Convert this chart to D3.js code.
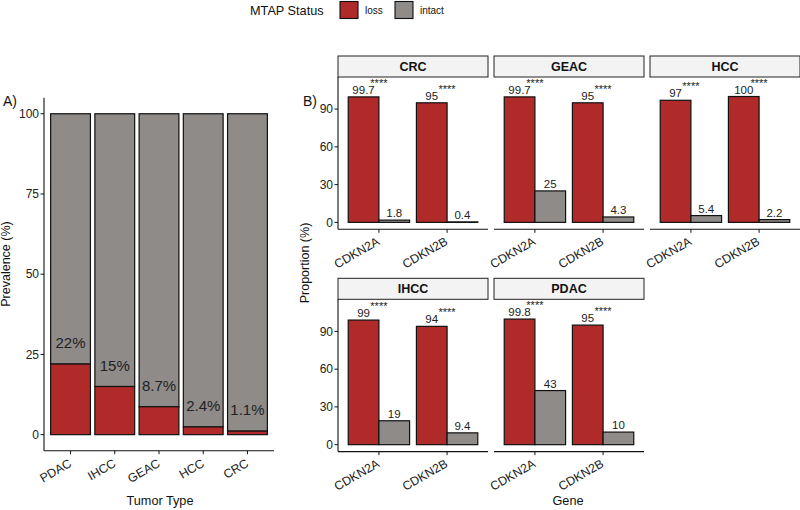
<!DOCTYPE html>
<html><head><meta charset="utf-8">
<script src="https://cdn.jsdelivr.net/npm/d3@7"></script>
<style>
html,body{margin:0;padding:0;background:#fff;}
svg{display:block;font-family:"Liberation Sans",Arial,Helvetica,sans-serif;}
</style></head>
<body><svg id="chart" width="800" height="510"></svg>
<script>
// ---- Data ----
const tumorTypes = ["PDAC", "IHCC", "GEAC", "HCC", "CRC"];
const lossPrevalence = [22, 15, 8.7, 2.4, 1.1];
const prevalenceLabels = ["22%", "15%", "8.7%", "2.4%", "1.1%"];
const prevalenceTicks = [0, 25, 50, 75, 100];

const facets = ["CRC", "GEAC", "HCC", "IHCC", "PDAC"];
const genes = ["CDKN2A", "CDKN2B"];
const lossCDKN2A = [99.7, 99.7, 97, 99, 99.8];
const intactCDKN2A = [1.8, 25, 5.4, 19, 43];
const lossCDKN2B = [95, 95, 100, 94, 95];
const intactCDKN2B = [0.4, 4.3, 2.2, 9.4, 10];
const sigCDKN2A = ["****", "****", "****", "****", "****"];
const sigCDKN2B = ["****", "****", "****", "****", "****"];
const proportionTicks = [0, 30, 60, 90];

const statusLevels = ["loss", "intact"];
const statusColors = ["#B02A29", "#8E8B88"];

const svg = d3.select("#chart");
const color = d3.scaleOrdinal().domain(statusLevels).range(statusColors);
const INK = "#111";

// ---- Legend ----
const lg = svg.append("g");
lg.append("text").attr("x", 250).attr("y", 15).attr("font-size", 12.7).attr("fill", INK).text("MTAP Status");
const legendX = [340, 395];
statusLevels.forEach((s, i) => {
  lg.append("rect").attr("x", legendX[i]).attr("y", 1.5).attr("width", 18).attr("height", 17)
    .attr("fill", color(s)).attr("stroke", INK).attr("stroke-width", 1.1);
  lg.append("text").attr("x", legendX[i] + 25).attr("y", 13.5).attr("font-size", 10).attr("fill", INK).text(s);
});

// ---- Panel A ----
const A = {left: 44, right: 274, top: 97.7, bottom: 450.7};
const xA = d3.scalePoint().domain(tumorTypes).range([A.left, A.right]).padding(0.6);
const yA = d3.scaleLinear().domain([-5, 105]).range([A.bottom, A.top]);
const bwA = xA.step() * 0.9;
const gA = svg.append("g");

svg.append("text").attr("x", 3).attr("y", 106).attr("font-size", 14).attr("fill", INK).text("A)");

tumorTypes.forEach((t, i) => {
  const cx = xA(t);
  gA.append("rect").attr("x", cx - bwA / 2).attr("y", yA(100)).attr("width", bwA)
    .attr("height", yA(lossPrevalence[i]) - yA(100))
    .attr("fill", color("intact")).attr("stroke", INK).attr("stroke-width", 1.2);
  gA.append("rect").attr("x", cx - bwA / 2).attr("y", yA(lossPrevalence[i])).attr("width", bwA)
    .attr("height", yA(0) - yA(lossPrevalence[i]))
    .attr("fill", color("loss")).attr("stroke", INK).attr("stroke-width", 1.2);
  gA.append("text").attr("x", cx).attr("y", yA(lossPrevalence[i]) - 15.7)
    .attr("text-anchor", "middle").attr("font-size", 15).attr("fill", "#222").text(prevalenceLabels[i]);
});

const axA = gA.append("g");
axA.append("line").attr("x1", A.left).attr("x2", A.left).attr("y1", A.top).attr("y2", A.bottom)
  .attr("stroke", INK).attr("stroke-width", 1.1);
axA.append("line").attr("x1", A.left).attr("x2", A.right).attr("y1", A.bottom).attr("y2", A.bottom)
  .attr("stroke", INK).attr("stroke-width", 1.1);
prevalenceTicks.forEach(v => {
  axA.append("line").attr("x1", A.left - 3.5).attr("x2", A.left).attr("y1", yA(v)).attr("y2", yA(v)).attr("stroke", INK);
  axA.append("text").attr("x", A.left - 5).attr("y", yA(v) + 4.2).attr("text-anchor", "end")
    .attr("font-size", 12).attr("fill", "#222").text(v);
});
tumorTypes.forEach(t => {
  axA.append("line").attr("x1", xA(t)).attr("x2", xA(t)).attr("y1", A.bottom).attr("y2", A.bottom + 3.5).attr("stroke", INK);
  axA.append("text").attr("transform", `translate(${xA(t) + 2},${A.bottom + 15}) rotate(-30)`)
    .attr("text-anchor", "end").attr("font-size", 12.3).attr("fill", "#222").text(t);
});
svg.append("text").attr("transform", `translate(10,264) rotate(-90)`).attr("text-anchor", "middle")
  .attr("font-size", 12.5).attr("fill", INK).text("Prevalence (%)");
svg.append("text").attr("x", 160).attr("y", 505).attr("text-anchor", "middle")
  .attr("font-size", 12.7).attr("fill", INK).text("Tumor Type");

// ---- Panel B ----
svg.append("text").attr("x", 303).attr("y", 106).attr("font-size", 14).attr("fill", INK).text("B)");
const pW = 150, pGap = 6, stripH = 21, pH = 152.3, rowGap = 222.3;
const bx0 = 338, by0 = 56;
const yB = d3.scaleLinear().domain([-5.5, 115.5]);
const lossByGene = [lossCDKN2A, lossCDKN2B];
const intactByGene = [intactCDKN2A, intactCDKN2B];
const sigByGene = [sigCDKN2A, sigCDKN2B];

facets.forEach((f, fi) => {
  const col = fi % 3, row = Math.floor(fi / 3);
  const x0 = bx0 + col * (pW + pGap);
  const sTop = by0 + row * rowGap;
  const pTop = sTop + stripH, pBot = pTop + pH;
  const y = yB.copy().range([pBot, pTop]);
  const x = d3.scalePoint().domain(genes).range([x0, x0 + pW]).padding(0.6);
  const groupW = x.step() * 0.9;
  const xs = d3.scaleBand().domain(statusLevels).range([-groupW / 2, groupW / 2]);
  const g = svg.append("g");

  g.append("rect").attr("x", x0).attr("y", sTop).attr("width", pW).attr("height", stripH)
    .attr("fill", "#F3F3F3").attr("stroke", "#222").attr("stroke-width", 1);
  g.append("text").attr("x", x0 + pW / 2).attr("y", sTop + stripH / 2 + 4.5).attr("text-anchor", "middle")
    .attr("font-size", 12.5).attr("font-weight", "bold").attr("fill", INK).text(f);

  genes.forEach((gene, gi) => {
    const vals = [lossByGene[gi][fi], intactByGene[gi][fi]];
    statusLevels.forEach((s, si) => {
      const v = vals[si];
      const bx = x(gene) + xs(s);
      g.append("rect").attr("x", bx).attr("y", y(v)).attr("width", xs.bandwidth())
        .attr("height", y(0) - y(v)).attr("fill", color(s)).attr("stroke", INK).attr("stroke-width", 1.2);
      g.append("text").attr("x", bx + xs.bandwidth() / 2).attr("y", y(v) - 3)
        .attr("text-anchor", "middle").attr("font-size", 11.5).attr("fill", "#222").text(String(v));
    });
    g.append("text").attr("x", x(gene)).attr("y", y(d3.max(vals)) - 10)
      .attr("text-anchor", "middle").attr("font-size", 11).attr("fill", "#222").text(sigByGene[gi][fi]);
  });

  g.append("line").attr("x1", x0).attr("x2", x0 + pW).attr("y1", pBot).attr("y2", pBot)
    .attr("stroke", INK).attr("stroke-width", 1.1);
  genes.forEach(gene => {
    g.append("line").attr("x1", x(gene)).attr("x2", x(gene)).attr("y1", pBot).attr("y2", pBot + 3.5).attr("stroke", INK);
    g.append("text").attr("transform", `translate(${x(gene) + 1.5},${pBot + 14.5}) rotate(-30)`)
      .attr("text-anchor", "end").attr("font-size", 12.3).attr("fill", "#222").text(gene);
  });
  if (col === 0) {
    g.append("line").attr("x1", x0).attr("x2", x0).attr("y1", pTop).attr("y2", pBot)
      .attr("stroke", INK).attr("stroke-width", 1.1);
    proportionTicks.forEach(v => {
      g.append("line").attr("x1", x0 - 3.5).attr("x2", x0).attr("y1", y(v)).attr("y2", y(v)).attr("stroke", INK);
      g.append("text").attr("x", x0 - 5).attr("y", y(v) + 4.2).attr("text-anchor", "end")
        .attr("font-size", 12).attr("fill", "#222").text(v);
    });
  }
});
svg.append("text").attr("transform", `translate(309,263) rotate(-90)`).attr("text-anchor", "middle")
  .attr("font-size", 12.5).attr("fill", INK).text("Proportion (%)");
svg.append("text").attr("x", 568).attr("y", 505).attr("text-anchor", "middle")
  .attr("font-size", 12.7).attr("fill", INK).text("Gene");
</script></body></html>
